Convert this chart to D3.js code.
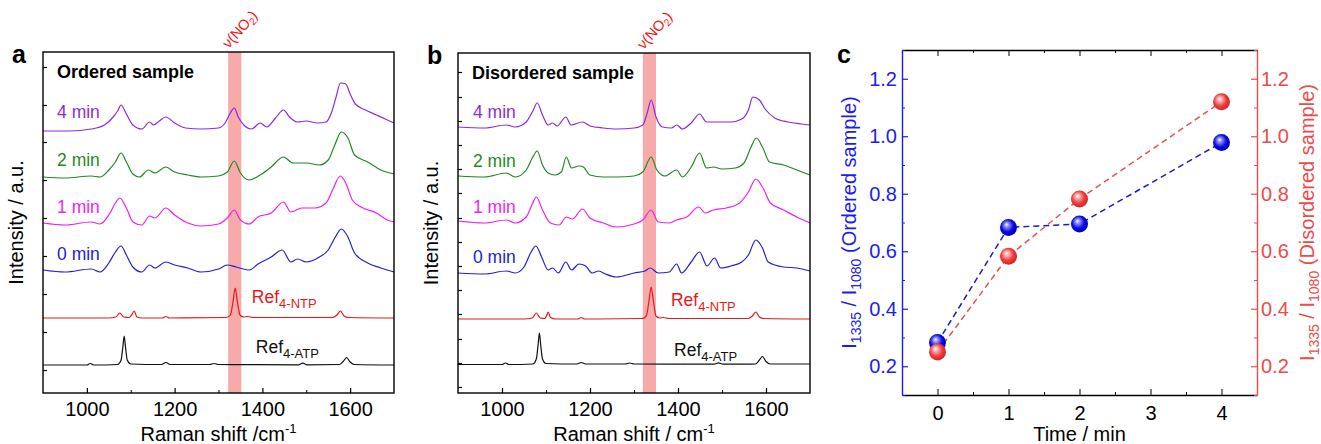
<!DOCTYPE html>
<html>
<head>
<meta charset="utf-8">
<script src="https://cdn.jsdelivr.net/npm/d3@7"></script>
<style>
  body { margin: 0; background: #fff; }
  svg { font-family: "Liberation Sans", Arial, sans-serif; }
</style>
</head>
<body>
<svg id="fig" width="1321" height="444"></svg>
<script>
// ---- data (intensity in arbitrary units, offset-stacked) ----
const ordered4 = [[900,262],[960,262],[1010,264],[1040,268],[1060,276],[1070,282],[1078,288],[1090,279],[1105,268],[1125,264],[1143,271],[1152,268],[1165,272],[1180,276],[1200,270],[1225,265],[1260,264],[1300,265],[1315,270],[1327,280],[1336,285],[1345,276],[1360,267],[1375,264],[1395,270],[1410,266],[1430,275],[1448,283],[1462,276],[1480,271],[1500,272],[1525,270],[1545,271],[1558,281],[1568,296],[1578,310],[1590,309],[1600,299],[1612,289],[1635,283],[1660,278],[1685,273],[1700,270]];
const ordered2 = [[900,216],[950,215],[1010,217],[1030,216],[1050,223],[1065,231],[1078,240],[1090,231],[1105,219],[1120,216],[1140,223],[1155,220],[1180,226],[1200,221],[1230,218],[1260,216],[1300,217],[1320,221],[1336,232],[1350,220],[1370,213],[1395,218],[1420,226],[1448,236],[1470,230],[1500,230],[1530,228],[1550,233],[1565,248],[1580,261],[1595,255],[1610,238],[1640,231],[1670,223],[1700,219]];
const ordered1 = [[900,170],[950,168],[1010,171],[1030,169],[1050,178],[1065,190],[1075,195],[1090,185],[1105,171],[1125,168],[1143,177],[1155,175],[1180,185],[1200,178],[1230,170],[1260,167],[1300,169],[1320,175],[1336,183],[1350,173],[1370,169],[1390,176],[1420,180],[1448,191],[1465,181],[1490,185],[1520,185],[1545,190],[1560,203],[1578,217],[1590,210],[1605,193],[1625,186],[1660,180],[1685,173],[1700,171]];
const ordered0 = [[900,123],[950,121],[1010,124],[1030,121],[1050,130],[1065,141],[1078,147],[1090,138],[1105,126],[1125,121],[1143,128],[1155,125],[1180,131],[1200,128],[1230,125],[1260,121],[1300,124],[1320,128],[1340,126],[1370,123],[1390,129],[1420,136],[1445,143],[1465,131],[1480,134],[1500,131],[1530,136],[1550,143],[1565,155],[1580,164],[1595,156],[1610,140],[1640,130],[1670,125],[1700,121]];
const refNTPa = [[900,75],[1050,75],[1066,76],[1075,80],[1084,76],[1096,75.5],[1102,78],[1108,82],[1114,76],[1126,75],[1172,75],[1180,76.5],[1188,75],[1318,75.5],[1327,78],[1333,91],[1338,105],[1343,91],[1349,78],[1357,76],[1366,76.5],[1380,75.5],[1560,75.5],[1570,78],[1578,82],[1586,77],[1596,75.5],[1700,75]];
const refATPa = [[900,28],[1000,28],[1008,29.5],[1016,28],[1070,28.5],[1078,33],[1082,46],[1085,57],[1088,46],[1092,33],[1100,29],[1170,28.5],[1180,30.5],[1190,28.5],[1280,28.5],[1290,29.5],[1300,28.5],[1482,28.2],[1492,29.8],[1502,28.2],[1576,28.5],[1585,32],[1592,35.5],[1600,31],[1610,28.5],[1700,28]];

const disordered4 = [[900,266],[960,265],[1010,268],[1030,266],[1055,271],[1070,282],[1080,290],[1092,278],[1105,268],[1115,270],[1125,267],[1145,276],[1157,268],[1183,271],[1200,267],[1230,265],[1260,264],[1300,265],[1320,268],[1330,280],[1339,293],[1350,276],[1365,266],[1385,265],[1397,268],[1410,264],[1430,270],[1449,279],[1465,271],[1490,271],[1520,271],[1545,274],[1560,283],[1570,296],[1585,293],[1598,284],[1620,275],[1650,271],[1680,269],[1700,268]];
const disordered2 = [[900,217],[960,216],[1010,220],[1030,216],[1055,223],[1070,236],[1080,242],[1092,228],[1105,220],[1120,218],[1135,221],[1146,236],[1158,225],[1175,227],[1185,226],[1200,218],[1230,216],[1260,216],[1300,217],[1320,221],[1339,236],[1352,223],[1370,217],[1397,223],[1410,216],[1430,226],[1449,240],[1465,225],[1480,226],[1500,224],[1530,225],[1550,230],[1565,245],[1578,255],[1592,246],[1608,231],[1640,228],[1670,223],[1700,218]];
const disordered1 = [[900,172],[960,170],[1010,173],[1030,170],[1055,176],[1070,190],[1078,196],[1092,183],[1110,170],[1130,168],[1146,176],[1160,174],[1183,184],[1200,175],[1230,170],[1260,166],[1300,169],[1320,173],[1339,183],[1355,171],[1380,170],[1397,173],[1420,176],[1447,186],[1462,180],[1480,183],[1510,185],[1540,190],[1560,201],[1577,214],[1592,206],[1610,190],[1640,183],[1670,176],[1700,170]];
const disordered0 = [[900,120],[960,119],[1010,122],[1030,120],[1050,126],[1065,140],[1077,147],[1090,136],[1105,123],[1115,125],[1128,120],[1145,131],[1158,123],[1175,129],[1190,127],[1205,120],[1220,122],[1235,119],[1260,116],[1300,120],[1325,122],[1337,125],[1355,120],[1380,121],[1397,129],[1408,120],[1430,131],[1449,141],[1466,127],[1483,135],[1497,125],[1520,127],[1545,131],[1560,138],[1577,153],[1592,145],[1605,131],[1640,126],[1670,125],[1700,122]];
const refNTPb = [[900,74],[1050,74],[1069,75],[1078,80],[1087,75],[1097,74.5],[1101,77],[1105,81],[1110,75.5],[1122,74],[1172,74],[1180,75.5],[1188,74],[1318,74.5],[1328,77],[1334,92],[1339,106],[1344,92],[1350,77],[1358,75],[1366,75.5],[1380,74.5],[1560,74.5],[1569,77],[1577,81],[1585,76],[1595,74.5],[1700,74]];
const refATPb = [[900,28.5],[1000,28.5],[1008,30],[1016,28.5],[1070,29],[1078,34],[1082,48],[1085,60],[1088,48],[1092,34],[1100,29.5],[1170,29],[1180,30.5],[1190,29],[1280,29],[1290,30],[1300,29],[1482,28.8],[1492,30.2],[1502,28.8],[1576,29],[1585,33],[1592,36.5],[1600,31.5],[1610,29],[1700,29]];

const spectrumNames = ["4 min", "2 min", "1 min", "0 min", "Ref4-NTP", "Ref4-ATP"];
const shiftTicks = [1000, 1200, 1400, 1600];
const shiftMinorTicks = [1100, 1300, 1500];
const yTicksA = [23, 61, 99, 137, 175, 213, 251, 288, 326];
const yTicksB = [6, 30, 54, 79, 103, 127, 151, 175, 200, 224, 248, 272, 296, 321];
const no2Band = [1322, 1352];

const times = [0, 1, 2, 4];
const orderedRatio = [0.283, 0.683, 0.695, 0.978];
const disorderedRatio = [0.25, 0.583, 0.782, 1.12];
const timeTicks = [0, 1, 2, 3, 4];
const ratioTicks = [0.2, 0.4, 0.6, 0.8, 1.0, 1.2];

const colors = ["#8a2be2", "#1f8a1f", "#f01ef0", "#2121d6", "#e81818", "#111111"];

const svg = d3.select("#fig");
const FONT = 20;

// ---------- spectra panels ----------
function drawSpectra(opt) {
  const x = d3.scaleLinear().domain([900, 1700]).range([opt.left, opt.right]);
  const y = d3.scaleLinear().domain([0, opt.bottom - opt.top]).range([opt.bottom, opt.top]);
  const g = svg.append("g");

  // NO2 band
  g.append("rect")
    .attr("x", x(opt.band[0])).attr("y", opt.top)
    .attr("width", x(opt.band[1]) - x(opt.band[0]))
    .attr("height", opt.bottom - opt.top)
    .attr("fill", "#f7aaaa");

  const line = d3.line()
    .x(d => x(d[0]))
    .y(d => y(d[1]))
    .curve(d3.curveMonotoneX);

  opt.series.forEach((s, i) => {
    g.append("path")
      .datum(s)
      .attr("d", line)
      .attr("fill", "none")
      .attr("stroke", colors[i])
      .attr("stroke-width", 1.2);
  });

  // frame
  g.append("rect")
    .attr("x", opt.left).attr("y", opt.top)
    .attr("width", opt.right - opt.left).attr("height", opt.bottom - opt.top)
    .attr("fill", "none").attr("stroke", "#000").attr("stroke-width", 1.4);

  // x axis
  const xa = g.append("g").attr("transform", `translate(0,${opt.bottom})`)
    .call(d3.axisBottom(x).tickValues(shiftTicks).tickFormat(d3.format("d"))
      .tickSize(-5).tickPadding(9).tickSizeOuter(0));
  xa.select(".domain").remove();
  xa.selectAll("text").attr("font-size", FONT).attr("font-family", null).attr("fill", "#000");
  xa.selectAll("line").attr("stroke-width", 1.2);
  const xm = g.append("g").attr("transform", `translate(0,${opt.bottom})`)
    .call(d3.axisBottom(x).tickValues(shiftMinorTicks).tickSize(-3).tickFormat(""));
  xm.select(".domain").remove();

  // y ticks (no labels)
  const ya = g.append("g").attr("transform", `translate(${opt.left},0)`)
    .call(d3.axisLeft(y).tickValues(opt.yTicks).tickSize(-4).tickFormat(""));
  ya.select(".domain").remove();
  ya.selectAll("line").attr("stroke-width", 1.2);

  // sample labels
  const lab = g.append("g").attr("font-size", 17.5);
  opt.labels.forEach((l, i) => {
    const t = lab.append("text")
      .attr("x", x(l[0])).attr("y", y(l[1]))
      .attr("fill", colors[i]);
    if (i < 4) {
      t.text(spectrumNames[i]);
    } else {
      t.append("tspan").text("Ref");
      t.append("tspan").attr("dy", 5).attr("font-size", 13).text(spectrumNames[i].slice(3));
    }
  });

  g.append("text")
    .attr("x", opt.left + 14).attr("y", opt.top + 26)
    .attr("font-size", 18).attr("font-weight", "bold")
    .text(opt.title);

  // nu(NO2)
  const bx = x((opt.band[0] + opt.band[1]) / 2) - 6;
  const nu = g.append("text")
    .attr("transform", `translate(${bx},${opt.top - 3}) rotate(-48)`)
    .attr("font-size", 14.5).attr("fill", "#ee1111");
  nu.append("tspan").text("ν(NO");
  nu.append("tspan").attr("dy", 3).attr("font-size", 10).text("2");
  nu.append("tspan").attr("dy", -3).text(")");

  // panel letter
  g.append("text").attr("x", opt.left - 31).attr("y", opt.top + 11)
    .attr("font-size", 25).attr("font-weight", "bold").text(opt.letter);

  // axis titles
  const xt = g.append("text")
    .attr("x", (opt.left + opt.right) / 2).attr("y", 441)
    .attr("text-anchor", "middle").attr("font-size", FONT);
  xt.append("tspan").text(opt.xTitle);
  xt.append("tspan").attr("dy", -8).attr("font-size", 13).text("-1");

  g.append("text")
    .attr("transform", `translate(${opt.left - 20},${(opt.top + opt.bottom) / 2}) rotate(-90)`)
    .attr("text-anchor", "middle").attr("font-size", FONT)
    .text("Intensity / a.u.");
}

drawSpectra({
  left: 43, right: 394, top: 52, bottom: 393,
  series: [ordered4, ordered2, ordered1, ordered0, refNTPa, refATPa],
  band: no2Band, yTicks: yTicksA,
  labels: [[932, 275], [932, 227], [932, 180], [932, 133], [1376, 90], [1385, 40]],
  title: "Ordered sample", letter: "a", xTitle: "Raman shift /cm"
});

drawSpectra({
  left: 458, right: 810, top: 53, bottom: 393,
  series: [disordered4, disordered2, disordered1, disordered0, refNTPb, refATPb],
  band: [1320, 1350], yTicks: yTicksB,
  labels: [[934, 275], [934, 226], [934, 180], [934, 130], [1384, 87], [1391, 37]],
  title: "Disordered sample", letter: "b", xTitle: "Raman shift / cm"
});

// ---------- panel c ----------
(function drawRatio() {
  const L = 902, R = 1257, T = 50, B = 395;
  const blue = "#1c1cf0", red = "#ee4a4a";
  const x = d3.scaleLinear().domain([-0.5, 4.5]).range([L, R]);
  const y = d3.scaleLinear().domain([0.1, 1.3]).range([B, T]);
  const g = svg.append("g");

  const defs = svg.append("defs");
  function ball(id, c0, c1, c2) {
    const gr = defs.append("radialGradient").attr("id", id)
      .attr("cx", "45%").attr("cy", "45%").attr("r", "60%")
      .attr("fx", "38%").attr("fy", "32%");
    gr.append("stop").attr("offset", "0%").attr("stop-color", "#ffffff");
    gr.append("stop").attr("offset", "22%").attr("stop-color", c0);
    gr.append("stop").attr("offset", "60%").attr("stop-color", c1);
    gr.append("stop").attr("offset", "100%").attr("stop-color", c2);
  }
  ball("ballBlue", "#8f8fff", "#0a0ae6", "#0000a8");
  ball("ballRed", "#ffb0b0", "#ee3e3e", "#c42222");

  // frame top & bottom (black)
  const xb = g.append("g").attr("transform", `translate(0,${B})`)
    .call(d3.axisBottom(x).tickValues(timeTicks).tickFormat(d3.format("d"))
      .tickSize(-6).tickPadding(11).tickSizeOuter(0));
  xb.selectAll("text").attr("font-size", FONT).attr("font-family", null);
  xb.select(".domain").attr("stroke-width", 1.4);
  g.append("g").attr("transform", `translate(0,${B})`)
    .call(d3.axisBottom(x).tickValues(d3.range(-0.5, 4.6, 1)).tickSize(-3).tickFormat("").tickSizeOuter(0))
    .select(".domain").remove();
  const xt = g.append("g").attr("transform", `translate(0,${T})`)
    .call(d3.axisTop(x).tickValues(timeTicks).tickSize(-6).tickFormat("").tickSizeOuter(0));
  xt.select(".domain").attr("stroke-width", 1.4);
  g.append("g").attr("transform", `translate(0,${T})`)
    .call(d3.axisTop(x).tickValues(d3.range(-0.5, 4.6, 1)).tickSize(-3).tickFormat("").tickSizeOuter(0))
    .select(".domain").remove();

  // left (blue) and right (red) axes
  const minorY = d3.range(0.1, 1.31, 0.2).map(v => +v.toFixed(1));
  function yAxis(axisFn, xpos, color, pad) {
    const a = g.append("g").attr("transform", `translate(${xpos},0)`)
      .call(axisFn(y).tickValues(ratioTicks).tickSize(-6).tickPadding(pad).tickFormat(d3.format(".1f")).tickSizeOuter(0));
    a.select(".domain").attr("stroke", color).attr("stroke-width", 1.4);
    a.selectAll("line").attr("stroke", color).attr("stroke-width", 1.2);
    a.selectAll("text").attr("fill", color).attr("font-size", FONT).attr("font-family", null);
    const m = g.append("g").attr("transform", `translate(${xpos},0)`)
      .call(axisFn(y).tickValues(minorY).tickSize(-3).tickFormat("").tickSizeOuter(0));
    m.select(".domain").remove();
    m.selectAll("line").attr("stroke", color);
  }
  yAxis(d3.axisLeft, L, blue, 5);
  yAxis(d3.axisRight, R, red, 4);

  // dashed lines + markers
  const line = d3.line().x((d, i) => x(times[i])).y(d => y(d));
  g.append("path").datum(orderedRatio).attr("d", line)
    .attr("fill", "none").attr("stroke", "#1a1ad0").attr("stroke-width", 1.5).attr("stroke-dasharray", "6,4");
  g.append("path").datum(disorderedRatio).attr("d", line)
    .attr("fill", "none").attr("stroke", "#e25353").attr("stroke-width", 1.5).attr("stroke-dasharray", "6,4");

  g.selectAll(".ptO").data(orderedRatio).join("circle")
    .attr("cx", (d, i) => x(times[i])).attr("cy", d => y(d)).attr("r", 8.5)
    .attr("fill", "url(#ballBlue)");
  g.selectAll(".ptD").data(disorderedRatio).join("circle")
    .attr("cx", (d, i) => x(times[i])).attr("cy", d => y(d)).attr("r", 8.5)
    .attr("fill", "url(#ballRed)");

  // titles
  g.append("text").attr("x", 837).attr("y", 63)
    .attr("font-size", 25).attr("font-weight", "bold").text("c");

  g.append("text").attr("x", (L + R) / 2).attr("y", 441)
    .attr("text-anchor", "middle").attr("font-size", FONT).text("Time / min");

  function ratioTitle(xpos, color, label) {
    const t = g.append("text")
      .attr("transform", `translate(${xpos},${(T + B) / 2}) rotate(-90)`)
      .attr("text-anchor", "middle").attr("font-size", FONT).attr("fill", color);
    t.append("tspan").text("I");
    t.append("tspan").attr("dy", 5).attr("font-size", 14).text("1335");
    t.append("tspan").attr("dy", -5).text(" / I");
    t.append("tspan").attr("dy", 5).attr("font-size", 14).text("1080");
    t.append("tspan").attr("dy", -5).text(" " + label);
  }
  ratioTitle(856, blue, "(Ordered sample)");
  ratioTitle(1314, red, "(Disordered sample)");
})();
</script>
</body>
</html>
